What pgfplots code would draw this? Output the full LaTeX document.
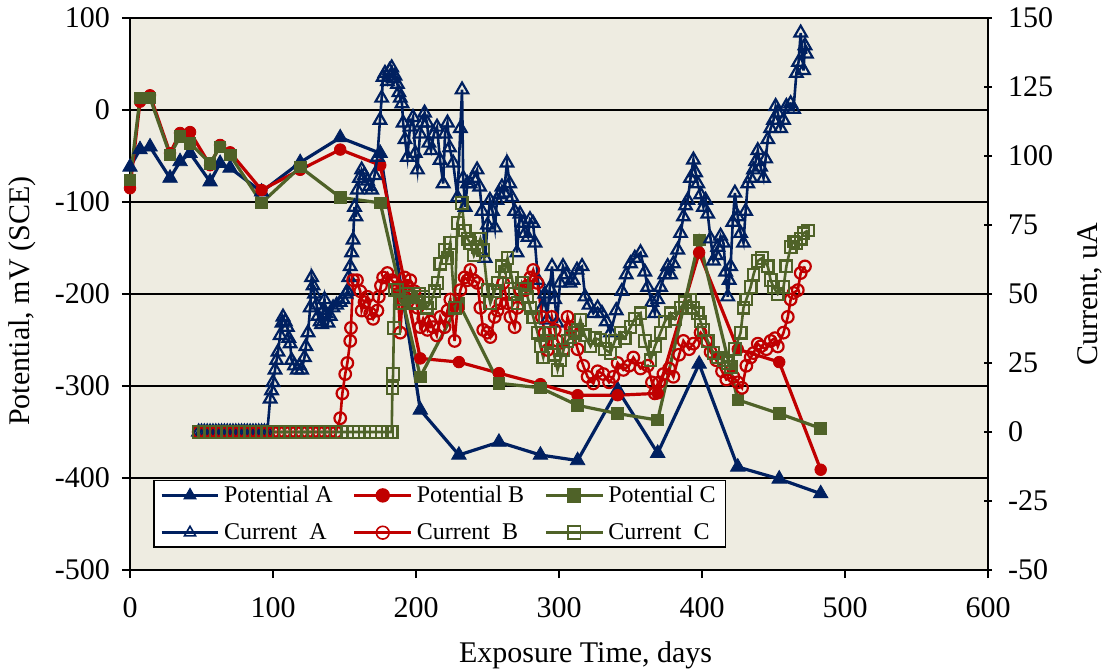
\documentclass[border=0pt]{standalone}
\usepackage{pgfplots}
\usepackage{pgfplotstable}
\pgfplotsset{compat=1.18}
\usepackage{fontspec}
\setmainfont{Liberation Serif}

\definecolor{navyA}{HTML}{002060}
\definecolor{redB}{HTML}{C00000}
\definecolor{greenC}{HTML}{4F6228}
\definecolor{plotbg}{HTML}{EEECE1}

% Half-cell potentials (mV vs SCE)
\pgfplotstableread{
day A B C
0 -62 -85 -76
7 -43 9 13
14 -40 16 13
28 -74 -47 -49
35 -56 -25 -29
42 -47 -24 -36
56 -78 -60 -58
63 -58 -38 -40
70 -63 -46 -49
92 -89 -87 -101
119 -57 -65 -62
147 -30 -43 -95
175 -47 -60 -101
203 -326 -270 -290
230 -375 -274 -210
258 -361 -286 -297
287 -375 -298 -302
313 -381 -310 -321
341 -304 -310 -330
369 -373 -308 -337
398 -276 -155 -141
425 -388 -260 -315
454 -401 -274 -330
483 -417 -391 -346
}\potentials

% Macrocell currents (uA)
\pgfplotstableread{
day I
48 0
50 0
52 0
54 0
56 0
58 0
60 0
62 0
64 0
66 0
68 0
70 0
72 0
74 0
76 0
78 0
80 0
82 0
84 0
86 0
88 0
90 0
92 0
94 0
96 0
98 12
99 15
100 18
101.4 22.5
102.5 26
103.5 29
105 35
106.3 39.5
107 41.7
108.5 40
110 38
111 34
112 32
113 26
115 24
117 22.5
118.5 24
120 22.5
122 27
123 31
124.5 36
126 45
127 56
128 53
129 50
130.5 46
131.5 42
133 40
134 39
135 44
136 48
137 43
138.5 39.5
140 42
142 45
144.5 46
147 47
149 48
151 50
152 51
153 56
154 60
155 65
156 69.6
157 81.5
158 78
159 87.7
160.5 92
162 95
164 93
166 91
167.5 89
169 87.7
171 93
173 99.6
174.8 113
176 121
177 128.6
178.3 130
180 127
181.5 131
183 132
184 128
185.3 129
187 126
188 123
189 121
190.2 119
191 112
192.3 106
194 99.6
195.8 110.5
197.9 114
199.5 101
201 95
202.8 108
204.5 112
206 115.6
207.7 112
209 104.7
210.5 102
212.5 108
214.7 110.5
216.8 98.5
219 90
220.3 108
222 112
223.5 103
226 97.5
229 85
231 110
232.2 124
233 92
234.3 81.5
236 90
237.8 90
240 92
242.7 95
244.5 88.8
246.2 80
248.3 63
250 75
251.7 84
253.5 80
255.2 74
256.6 84
258.5 86
260.1 88.8
261.5 86.6
263.6 97.5
265.5 90
267.1 85
269 80
270.6 65
272.7 79
274.8 75.7
276.2 72
278.3 70.6
279.7 77
281.8 75.7
283.2 68.5
285.3 55
288.1 45
290 50
291.6 40.6
293.5 52
295.1 60
297 48
298.6 39.5
300.7 54
302.8 60
305 57
307.7 54
309.8 55
312.6 58.7
316.1 60
318.2 49
321 46
324 43
327 45
330 43
333 40
336 36
340 44
344 51
347 57
350 61
353 63
357 65
360 58
362 52.5
365 47
367 43
369 48
371 52.5
374 57
376 60
378 57
380 61
383 66
385 72
387 78
388.5 82
390 84
392 92
394 98.6
395.5 94
397 90
399 86
401 81.5
402.5 84
404 79
406 70
408 62
410 64
411 67
413 71
415 68.5
416.5 58
418 49
419 55
420 60
421.5 76
423 86.6
425 78
427 72
429 68.5
430.5 80
432 90
434 92
436 95
437.5 98
439 102
441 96
443 92
444.5 99
446 106
448 110
450 113
451.5 118
453 115.6
455 110
457 113
459 118
462 119
464 117
466 130
467.5 134
469 144.6
471 131
472 140
473 137
}\currentA

\pgfplotstableread{
day I
48 0
52 0
56 0
60 0
64 0
68 0
72 0
76 0
80 0
84 0
88 0
92 0
96 0
100 0
104 0
108 0
112 0
116 0
120 0
124 0
128 0
132 0
136 0
140 0
144 0
147 5
148.5 14
150.5 21
152 25
154 33
154.5 37.7
156 55
158.7 55
161 51
162 44
164 47
166 49
168 43
170 41
173 44
174 49
175.5 53
177 56
180 57.6
183 55
185 54
187 52.5
189 36
190.5 48
192 56
194 53
196 55
199 51
201 45
203 38
205 41
208 37
210 40
212 38
214.5 35
217 41.7
220 38
222 44
224 48
227 33
229 45
231 51.4
234 56
236 55
238 58.7
240.5 55
243 54
245 45
247 37
250 36
252 34.4
255 41.7
257 44
259 46.7
261 54
264 46.7
266 41.7
269 38
271 45
273 51.4
276 51.4
278 53
280 56
282 58.7
285 54
288 41.7
290 36
292 29.7
295 41.7
297 37
299 33
303 29.7
306 41.7
308 38
310 36
313 30
317 24
320 20
324 17.6
327 22
331 21
335 18
338 20
341 25
345 22.5
349 24
352 27
357 23
362 24
365 18
367 14
370 18
373 21
377 23
380 20
384 28
387 33
391 30
394 32
399 36
403 33
406 29
410 26
414 22
417 19
422 20
425 18
428 16
431 24
434 27
436 28.6
439 32
441 31
445 30
448 33
451 34
453 31
457 36
460 41.7
462 48
464 50.4
467 51.4
469 57.6
472 60
}\currentB

\pgfplotstableread{
day I
48 0
52 0
56 0
60 0
64 0
68 0
72 0
76 0
80 0
84 0
88 0
92 0
96 0
100 0
104 0
108 0
112 0
116 0
120 0
124 0
128 0
132 0
136 0
140 0
144 0
148 0
152 0
156 0
160 0
164 0
168 0
172 0
176 0
180 0
183 0
183.5 16
184 21
184.5 37.7
185 51.4
187 51.4
188.5 48
190 46.7
193 50
196 49
198 47
200 46.7
202.5 50
205 49
207.5 45
210 46.7
213 51
215 54
217 61
220 66
222 63
224 68.5
227 45
229 75.7
232 83
234 73
236 70
238 68.5
240.5 64
243 67
245 70
247 66
250 51.4
252 46.7
255 51
257 54
260 60
262 58
264 63
267 56
269 50
271 46.7
274 54
276 52
278 49
280 45
282 41.7
285 36
287 31
289 27
291.5 33
294 36
296.5 28
299 22.5
301 26
303 29.7
306 33
308 34.4
311 36
313 37
315 40.6
318 35
322 31
325 34
329 33.3
332 30
336 28.6
339 33
343 36
346 34
350 38
353 41
357 43
360 33
364 26
367 31
371 36
374 40
378 43
381 41
385 45
388 47
392 48
394 45
397 43
399 40
401 37
404 33
408 28.6
411 27
415 26
418 25
420 23.5
423 30
427 36
429 45
431 48
434 52.5
436 57
439 62
442 63
446 60
448 55
450 52.5
453 50
457 52.5
459 60
462 67
464 69
466 68.5
469 70
471 72
474 73
}\currentC

\pgfplotsset{
  potA/.style={navyA, line width=1.6pt, mark=triangle*, mark size=4.2pt, mark options={solid, line width=0.4pt, fill=navyA}},
  potB/.style={redB, line width=1.6pt, mark=*, mark size=2.9pt, mark options={solid, line width=0.4pt, fill=redB}},
  potC/.style={greenC, line width=1.6pt, mark=square*, mark size=2.9pt, mark options={solid, line width=0.4pt, fill=greenC}},
  curA/.style={navyA, line width=1.3pt, mark=triangle, mark size=3.6pt, mark options={solid, line width=1.1pt}},
  curB/.style={redB, line width=1.3pt, mark=o, mark size=2.9pt, mark options={solid, line width=1.1pt}},
  curC/.style={greenC, line width=1.3pt, mark=square, mark size=2.9pt, mark options={solid, line width=1.1pt}},
  common/.style={
    scale only axis, width=429pt, height=276pt,
    xmin=0, xmax=600,
    tick label style={font=\fontsize{15}{18}\selectfont},
    label style={font=\fontsize{15}{18}\selectfont},
    /pgf/number format/assume math mode=true,
    tick style={black, line width=1pt},
    major tick length=4pt,
    axis line style={line width=1.2pt, -},
  },
}

\begin{document}
\begin{tikzpicture}
\begin{axis}[common, name=main,
  ymin=-500, ymax=100,
  xtick={0,100,...,600}, ytick={-500,-400,...,100},
  tick pos=left, tick align=outside,
  xticklabel style={yshift=-6pt},
  yticklabel style={xshift=-2.5pt},
  axis background/.style={fill=plotbg},
  ymajorgrids, major grid style={black, line width=0.8pt},
  xlabel={Exposure Time, days},
  ylabel={Potential, mV (SCE)},
  xlabel style={at={(axis description cs:0.531,-0.154)}, anchor=center},
  ylabel style={at={(axis description cs:-0.126,0.487)}, anchor=center},
]
\addplot[potA] table[x=day, y=A] {\potentials};
\addplot[potB] table[x=day, y=B] {\potentials};
\addplot[potC] table[x=day, y=C] {\potentials};
\end{axis}

\begin{axis}[common,
  ymin=-50, ymax=150, ytick={-50,-25,...,150},
  axis x line=none, axis y line*=right,
  tick align=center,
  yticklabel style={xshift=4.5pt},
  ylabel={Current, uA},
  ylabel style={at={(axis description cs:1.119,0.5)}, anchor=center},
  legend columns=3,
  legend cell align=left,
  legend image code/.code={\draw[mark repeat=2, mark phase=2, mark size=3.2pt, mark options={line width=0.8pt}] plot coordinates {(0cm,0cm) (0.5cm,0cm) (1cm,0cm)};},
  legend style={at={(0.027,0.04)}, anchor=south west, draw=black, line width=0.8pt, fill=white,
    font=\fontsize{12}{14}\selectfont, row sep=5pt, inner ysep=0.5pt,
    /tikz/every even column/.append style={column sep=8pt}},
]
\addlegendimage{potA}
\addlegendimage{potB}
\addlegendimage{potC}
\addplot[curA] table[x=day, y=I] {\currentA};
\addplot[curB] table[x=day, y=I] {\currentB};
\addplot[curC] table[x=day, y=I] {\currentC};
\legend{Potential A, Potential B, Potential C, Current\ \ A, Current\ \ B, Current\ \ C}
\end{axis}

\pgfresetboundingbox
\path[use as bounding box] ([shift={(-65pt,-49.5pt)}]main.south west) rectangle ([shift={(59.5pt,9pt)}]main.north east);
\end{tikzpicture}
\end{document}
